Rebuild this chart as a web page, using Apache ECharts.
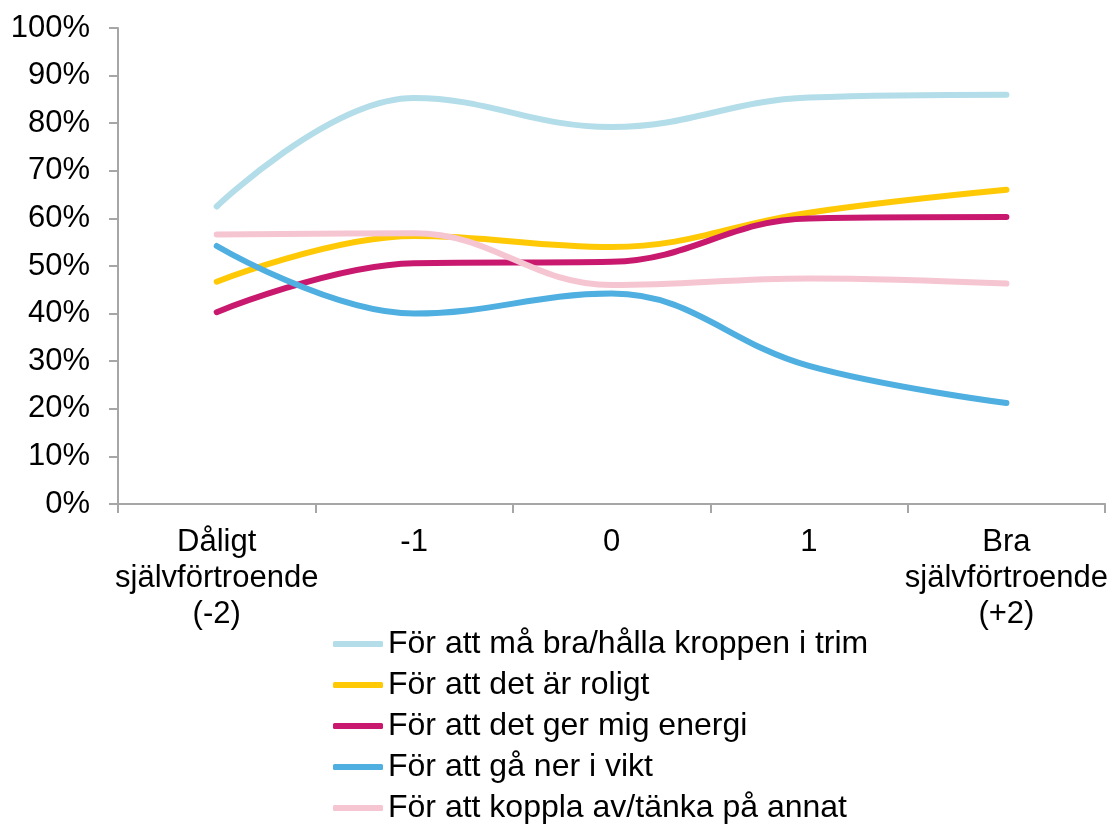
<!DOCTYPE html>
<html>
<head>
<meta charset="utf-8">
<script src="https://cdn.jsdelivr.net/npm/echarts@6/dist/echarts.min.js"></script>
<style>
html,body{margin:0;padding:0;background:#fff;}
#chart{width:1111px;height:824px;}
</style>
</head>
<body>
<div id="chart"></div>
<script>
const categories = ['Dåligt\nsjälvförtroende\n(-2)', '-1', '0', '1', 'Bra\nsjälvförtroende\n(+2)'];
const seriesNames = [
  'För att må bra/hålla kroppen i trim',
  'För att det är roligt',
  'För att det ger mig energi',
  'För att gå ner i vikt',
  'För att koppla av/tänka på annat'
];
const maBra = [62.5, 85.3, 79.2, 85.4, 86.0];
const roligt = [46.7, 56.3, 54.0, 61.2, 66.0];
const energi = [40.3, 50.6, 50.9, 60.0, 60.3];
const vikt = [54.2, 40.0, 44.2, 29.0, 21.2];
const kopplaAv = [56.6, 56.9, 46.0, 47.4, 46.3];
const yTicks = [0, 100, 10];

const colors = ['#B3DDE8', '#FFC906', '#C9196F', '#4FAFE0', '#F6C5D2'];
const dataSets = [maBra, roligt, energi, vikt, kopplaAv];

const chart = echarts.init(document.getElementById('chart'), null, {renderer: 'canvas'});
const font = '"Liberation Sans", Arial, sans-serif';
chart.setOption({
  animation: false,
  backgroundColor: '#ffffff',
  color: colors,
  grid: {left: 118, right: 5, top: 28, bottom: 320, containLabel: false},
  xAxis: {
    type: 'category',
    data: categories,
    boundaryGap: true,
    axisLine: {lineStyle: {color: '#A6A6A6', width: 2}},
    axisTick: {show: true, alignWithLabel: false, length: 9, lineStyle: {color: '#A6A6A6', width: 2}},
    axisLabel: {color: '#000', fontFamily: font, fontSize: 31, lineHeight: 36, margin: 20, interval: 0}
  },
  yAxis: {
    type: 'value',
    min: yTicks[0], max: yTicks[1], interval: yTicks[2],
    splitLine: {show: false},
    axisLine: {show: true, lineStyle: {color: '#A6A6A6', width: 2}},
    axisTick: {show: true, length: 9, lineStyle: {color: '#A6A6A6', width: 2}},
    axisLabel: {color: '#000', fontFamily: font, fontSize: 31, margin: 28, formatter: '{value}%'}
  },
  legend: {
    orient: 'vertical',
    left: 333,
    top: 627,
    height: 300,
    padding: 0,
    itemWidth: 50,
    itemHeight: 6,
    itemGap: 7,
    icon: 'roundRect',
    textStyle: {color: '#000', fontFamily: font, fontSize: 32, lineHeight: 34},
    data: seriesNames
  },
  series: dataSets.map((d, i) => ({
    name: seriesNames[i],
    type: 'line',
    data: d,
    smooth: 0.4,
    showSymbol: false,
    symbol: 'none',
    lineStyle: {width: 6, color: colors[i], cap: 'round', join: 'round'},
    itemStyle: {color: colors[i]}
  }))
});
</script>
</body>
</html>
